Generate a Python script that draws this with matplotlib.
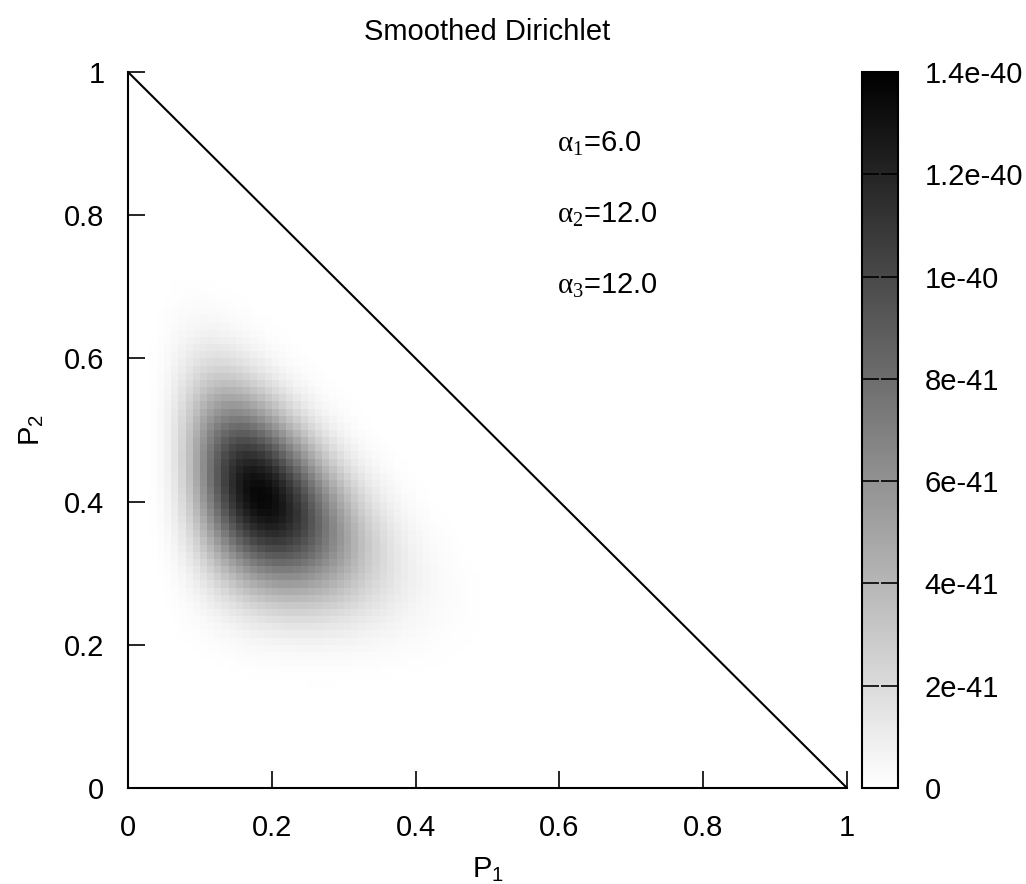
import matplotlib
matplotlib.use('Agg')
import matplotlib.pyplot as plt
import numpy as np

plt.rcParams['font.family'] = ['Liberation Sans', 'DejaVu Sans']
plt.rcParams['mathtext.fontset'] = 'custom'
plt.rcParams['mathtext.rm'] = 'Liberation Serif'
plt.rcParams['mathtext.it'] = 'Liberation Serif:italic'

# Dirichlet parameters shown on the chart
alphas = [6.0, 12.0, 12.0]
alpha_labels = [r'$\mathrm{\alpha_1}$=6.0', r'$\mathrm{\alpha_2}$=12.0', r'$\mathrm{\alpha_3}$=12.0']
peak_density = 1.36e-40
grid_step = 0.01

axis_ticks = [0, 0.2, 0.4, 0.6, 0.8, 1]
axis_tick_labels = ['0', '0.2', '0.4', '0.6', '0.8', '1']
cbar_ticks = [0, 2e-41, 4e-41, 6e-41, 8e-41, 1e-40, 1.2e-40, 1.4e-40]
cbar_tick_labels = ['0', '2e-41', '4e-41', '6e-41', '8e-41', '1e-40', '1.2e-40', '1.4e-40']

# density on the grid (white outside the simplex)
edges = np.arange(0, 1 + grid_step / 2, grid_step)
centers = (edges[:-1] + edges[1:]) / 2
p1, p2 = np.meshgrid(centers, centers)
p3 = 1 - p1 - p2
inside = p3 > 0
dens = np.zeros_like(p1)
dens[inside] = (p1[inside] ** (alphas[0] - 1) * p2[inside] ** (alphas[1] - 1)
                * p3[inside] ** (alphas[2] - 1))
dens = dens / dens.max() * peak_density

fs = 21
fig = plt.figure(figsize=(10.26, 8.84), dpi=100)
ax = fig.add_axes([128 / 1026, 1 - 788 / 884, 719 / 1026, 716 / 884])
mesh = ax.pcolormesh(edges, edges, dens, cmap='gray_r', vmin=0, vmax=1.4e-40, shading='flat')

# simplex edge
ax.plot([0, 1], [1, 0], color='black', lw=1.5)

ax.set_xlim(0, 1)
ax.set_ylim(0, 1)
ax.spines['top'].set_visible(False)
ax.spines['right'].set_visible(False)
for s in ['left', 'bottom']:
    ax.spines[s].set_linewidth(1.5)
ax.set_xticks(axis_ticks)
ax.set_xticklabels(axis_tick_labels)
ax.set_yticks(axis_ticks)
ax.set_yticklabels(axis_tick_labels)
ax.tick_params(direction='in', length=12, width=1.2, labelsize=fs)
ax.tick_params(axis='x', pad=19)
ax.tick_params(axis='y', pad=17)

ax.set_xlabel(r'$\mathregular{P_1}$', fontsize=fs, labelpad=9)
ax.set_ylabel(r'$\mathregular{P_2}$', fontsize=fs, labelpad=13)
ax.set_title('Smoothed Dirichlet', fontsize=fs, pad=23)

for i, lab in enumerate(alpha_labels):
    ax.text(0.597, 0.899 - 0.099 * i, lab, fontsize=fs, va='center', ha='left')

# colour box
cax = fig.add_axes([862 / 1026, 1 - 788 / 884, 36 / 1026, 716 / 884])
cb = fig.colorbar(mesh, cax=cax, ticks=cbar_ticks)
cb.set_ticklabels(cbar_tick_labels)
cb.outline.set_linewidth(1.5)
cax.tick_params(direction='in', length=12, width=1.2, labelsize=fs, left=True, right=True, pad=19)

fig.savefig('out.png', dpi=100)
